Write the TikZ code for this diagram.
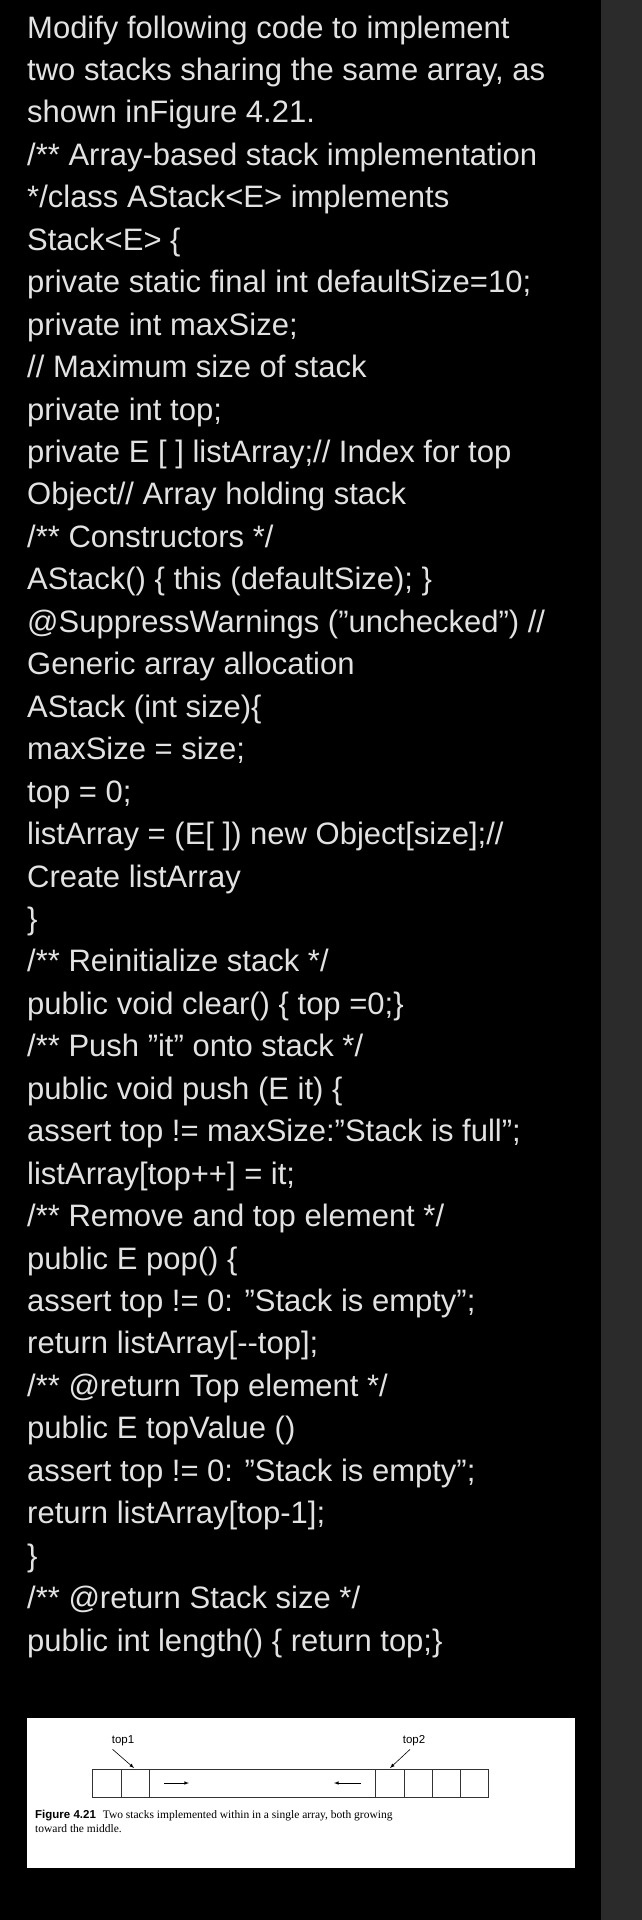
\documentclass[tikz,border=0pt]{standalone}
\usepackage{fontspec}
\setmainfont{Liberation Sans}
\newfontfamily\capserif{Liberation Serif}
\begin{document}
\begin{tikzpicture}[x=1pt,y=-1pt,
 code/.style={anchor=base west,inner sep=0pt,text=codegray,font=\fontsize{31}{31}\selectfont},
 cell/.style={draw=black!80,line width=0.8pt},
 lbl/.style={font=\fontsize{11.5}{12}\selectfont,inner sep=0pt}]
\definecolor{codegray}{HTML}{E2E2E2}
\definecolor{strip}{HTML}{2B2B2B}
\fill[black] (0,0) rectangle (601,1920);
\fill[strip] (601,0) rectangle (642,1920);
\useasboundingbox (0,0) rectangle (642,1920);
\foreach \t [count=\i from 0] in {
{Modify following code  to implement},
{two stacks sharing the same array, as},
{shown inFigure 4.21.},
{/** Array-based stack implementation},
{*/class AStack<E> implements},
{Stack<E> \{},
{private static final int defaultSize=10;},
{private int maxSize;},
{// Maximum size of stack},
{private int top;},
{private E [ ] listArray;// Index for top},
{Object// Array holding stack},
{/** Constructors */},
{AStack() \{ this (defaultSize); \}},
{@SuppressWarnings ("unchecked") //},
{Generic array allocation},
{AStack (int size)\{},
{maxSize = size;},
{top = 0;},
{listArray = (E[ ]) new Object[size];//},
{Create listArray},
{\}},
{/** Reinitialize stack */},
{public void clear() \{ top =0;\}},
{/** Push "it" onto stack */},
{public void push (E it) \{},
{assert top != maxSize:"Stack is full";},
{listArray[top++] = it;},
{/** Remove and top element */},
{public E pop() \{},
{assert top != 0: "Stack is empty";},
{return listArray[{-}{-}top];},
{/** @return Top element */},
{public E topValue ()},
{assert top != 0: "Stack is empty";},
{return listArray[top-1];},
{\}},
{/** @return Stack size */},
{public int length() \{ return top;\}}
}{\node[code] (l\i) at (27,{38+42.45*\i}) {\t};}
% figure
\fill[white] (27,1718) rectangle (575,1868);
\draw[cell] (92,1769) rectangle (488,1797);
\foreach \x in {121,149,375,404,432,460}{\draw[cell] (\x,1769) -- (\x,1797);}
\coordinate (ra) at (164,1783); \coordinate (rb) at (189,1783);
\coordinate (la) at (361,1783); \coordinate (lb) at (334,1783);
\draw[-latex,line width=0.6pt] (ra) -- (rb);
\draw[-latex,line width=0.6pt] (la) -- (lb);
\node[lbl] (t1) at (123,1741) {top1};
\node[lbl] (t2) at (414,1741) {top2};
\coordinate (p1) at (134,1768); \coordinate (p2) at (390,1768);
\draw[-latex,line width=0.6pt] (t1.south west)++(1,3) -- (p1);
\draw[-latex,line width=0.6pt] (t2.south)++(-4,3) -- (p2);
\node[anchor=base west,inner sep=0pt,font=\fontsize{11.5}{14}\selectfont,align=left] (cap) at (35,1832)
 {\textbf{Figure 4.21}\hspace{0.6em}{\capserif Two stacks implemented within in a single array, both growing}\\{\capserif toward the middle.}};
\end{tikzpicture}
\end{document}
